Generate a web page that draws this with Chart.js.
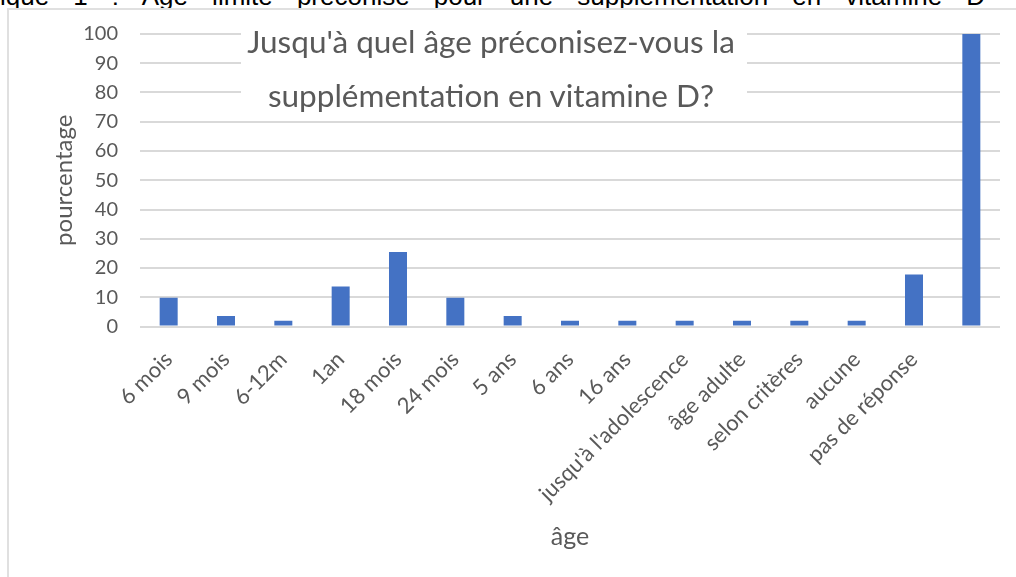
<!DOCTYPE html>
<html><head><meta charset="utf-8">
<script src="https://cdn.jsdelivr.net/npm/chart.js@4"></script>
<style>
html,body{margin:0;padding:0;background:#fff;width:1016px;height:577px;overflow:hidden;position:relative;font-family:Lato,sans-serif}
#frame{position:absolute;left:7px;top:8px;width:1030px;height:590px;border-left:2px solid #e0e0e0;border-top:2px solid #e0e0e0;box-sizing:border-box}
#cap{position:absolute;left:0;top:-19px;width:985px;font:26px "Liberation Sans",Arial,sans-serif;color:#000;text-align:justify;text-align-last:justify}
#c{position:absolute;left:0;top:0}
#tbox{position:absolute;left:241px;top:30px;width:506px;height:88px;background:#fff}
#ttext{position:absolute;left:238px;top:14px;width:506px;text-align:center;font:31.5px Lato,sans-serif;line-height:54px;color:#595959;white-space:nowrap}
</style></head>
<body>
<div id="cap">ique 1 : Age limite préconisé pour une supplémentation en vitamine D</div>
<div id="frame"></div>
<canvas id="c" width="1016" height="577"></canvas>
<div id="tbox"></div>
<div id="ttext">Jusqu'à quel âge préconisez-vous la<br>supplémentation en vitamine D?</div>
<script>
const categories = ["6 mois","9 mois","6-12m","1an","18 mois","24 mois","5 ans","6 ans","16 ans","jusqu'à l'adolescence","âge adulte","selon critères","aucune","pas de réponse",""];
const values = [9.8, 3.6, 2, 13.7, 25.5, 9.8, 3.6, 2, 2, 2, 2, 2, 2, 17.8, 100];
const yTickValues = [0,10,20,30,40,50,60,70,80,90,100];
const xTitle = "âge";
const yTitle = "pourcentage";

const grey = '#595959';
new Chart(document.getElementById('c'), {
  type: 'bar',
  data: {
    labels: categories,
    datasets: [{ data: values, backgroundColor: '#4472c4', barPercentage: 0.314, categoryPercentage: 1 }]
  },
  options: {
    responsive: false,
    animation: false,
    layout: { padding: { left: 8, right: 16, top: 34, bottom: 0 } },
    plugins: { legend: { display: false }, tooltip: { enabled: false } },
    scales: {
      x: {
        grid: { display: false, drawTicks: false },
        border: { display: false },
        ticks: { color: grey, font: { family: 'Lato', size: 22 }, minRotation: 45, maxRotation: 45, autoSkip: false, padding: 20 },
        title: { display: true, text: xTitle, color: grey, font: { family: 'Lato', size: 25 }, padding: { top: 0, bottom: 25 } },
        afterFit(s) { s.height = 250.5; }
      },
      y: {
        min: 0, max: 100,
        afterBuildTicks(s) { s.ticks = yTickValues.map(v => ({ value: v })); },
        ticks: { color: grey, font: { family: 'Lato', size: 20 }, padding: 22 },
        grid: { color: '#d9d9d9', lineWidth: 2, drawTicks: false },
        border: { display: false },
        title: { display: true, text: yTitle, color: grey, font: { family: 'Lato', size: 24 }, padding: { top: 42, bottom: 0 } },
        afterFit(s) { s.width = 132; }
      }
    }
  }
});
</script>
</body></html>
